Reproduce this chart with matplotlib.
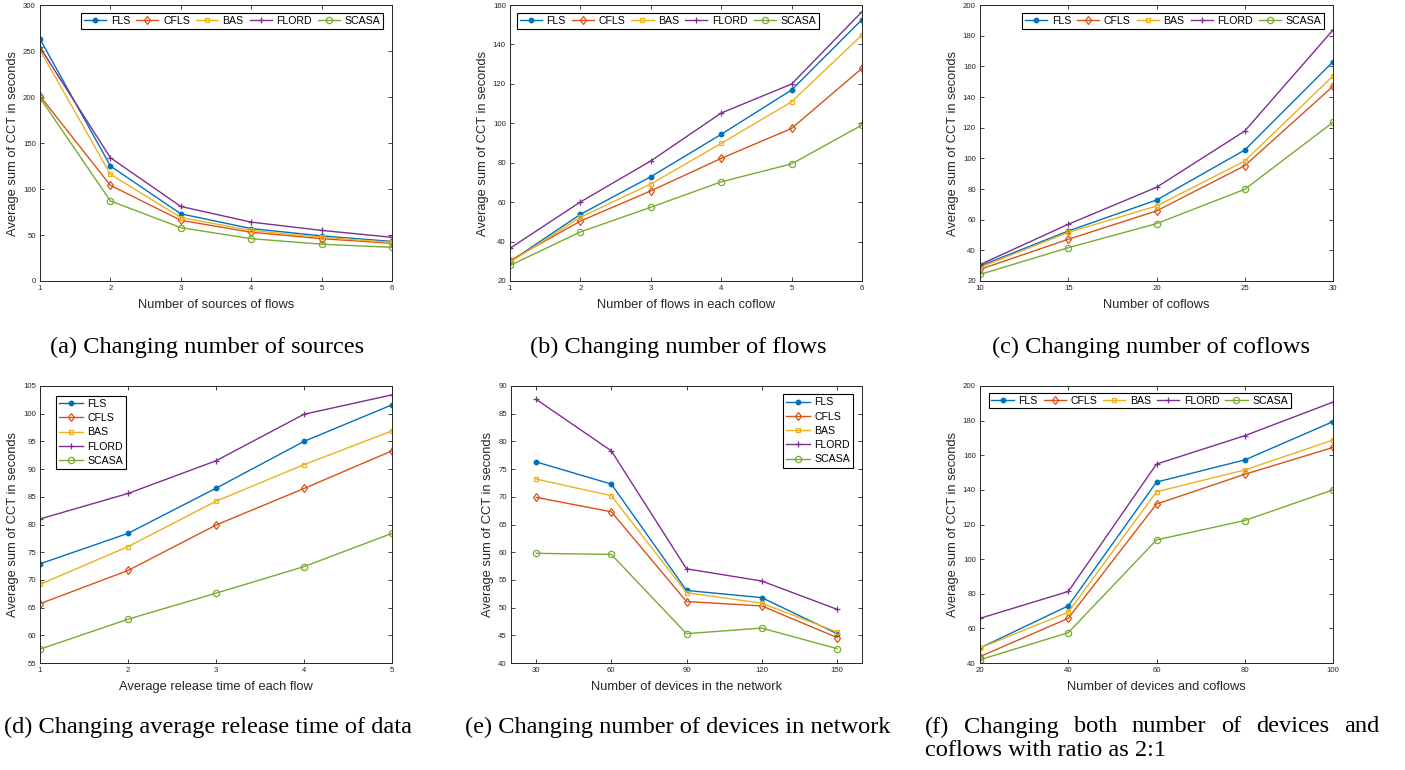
import matplotlib
matplotlib.use("Agg")
import matplotlib.pyplot as plt

# ---------------- data ----------------
series_names = ["FLS", "CFLS", "BAS", "FLORD", "SCASA"]

a_x = [1, 2, 3, 4, 5, 6]
a_FLS = [263, 125, 73, 57, 49, 43]
a_CFLS = [201, 104, 66, 53, 46, 41]
a_BAS = [251, 116, 69, 55, 47.5, 42]
a_FLORD = [254, 134, 81, 64, 55, 47.5]
a_SCASA = [199, 87, 58, 46, 40, 36.6]

b_x = [1, 2, 3, 4, 5, 6]
b_FLS = [29.8, 53.8, 72.9, 94.4, 116.9, 152.6]
b_CFLS = [30.3, 50.4, 65.7, 82.2, 97.4, 127.9]
b_BAS = [29.5, 52.3, 69.2, 89.8, 110.9, 144.8]
b_FLORD = [36.6, 60.1, 80.9, 105.2, 119.9, 156.6]
b_SCASA = [27.9, 44.9, 57.4, 70.3, 79.4, 99.1]

c_x = [10, 15, 20, 25, 30]
c_FLS = [29.8, 52.6, 72.8, 105.4, 163.0]
c_CFLS = [27.6, 47.2, 65.7, 95.2, 147.0]
c_BAS = [28.9, 51.7, 68.9, 98.3, 153.7]
c_FLORD = [30.7, 57.0, 81.1, 117.8, 183.7]
c_SCASA = [24.3, 41.7, 57.4, 79.8, 123.5]

d_x = [1, 2, 3, 4, 5]
d_FLS = [72.9, 78.4, 86.55, 95.0, 101.6]
d_CFLS = [65.7, 71.7, 79.9, 86.5, 93.3]
d_BAS = [69.2, 76.0, 84.2, 90.8, 96.9]
d_FLORD = [81.0, 85.6, 91.5, 99.9, 103.4]
d_SCASA = [57.5, 62.9, 67.6, 72.4, 78.4]

e_x = [30, 60, 90, 120, 150]
e_FLS = [76.3, 72.3, 53.1, 51.8, 45.3]
e_CFLS = [69.9, 67.3, 51.1, 50.3, 44.6]
e_BAS = [73.2, 70.2, 52.7, 50.8, 45.6]
e_FLORD = [87.6, 78.3, 57.0, 54.8, 49.7]
e_SCASA = [59.8, 59.6, 45.3, 46.3, 42.6]

f_x = [20, 40, 60, 80, 100]
f_FLS = [48.7, 73.0, 144.5, 157.3, 179.4]
f_CFLS = [43.7, 65.8, 131.8, 149.0, 164.5]
f_BAS = [48.7, 69.3, 138.9, 151.5, 168.8]
f_FLORD = [65.8, 81.3, 154.9, 171.3, 190.7]
f_SCASA = [41.9, 57.5, 111.1, 122.3, 140.0]

a_xlabel = "Number of sources of flows"
b_xlabel = "Number of flows in each coflow"
c_xlabel = "Number of coflows"
d_xlabel = "Average release time of each flow"
e_xlabel = "Number of devices in the network"
f_xlabel = "Number of devices and coflows"
ylabel = "Average sum of CCT in seconds"

captions = ["(a) Changing number of sources",
            "(b) Changing number of flows",
            "(c) Changing number of coflows",
            "(d) Changing average release time of data",
            "(e) Changing number of devices in network"]
caption_f1_words = ["(f)", "Changing", "both", "number", "of", "devices", "and"]
caption_f2 = "coflows with ratio as 2:1"

# ---------------- style ----------------
colors = ["#0072BD", "#D95319", "#EDB120", "#7E2F8E", "#77AC30"]
markers = [dict(marker="o", ms=3.2, mfc=None),
           dict(marker="d", ms=4.5, mfc="none", mew=0.9),
           dict(marker="s", ms=3.2, mfc="none", mew=0.9),
           dict(marker="+", ms=5, mew=0.9),
           dict(marker="o", ms=4.5, mfc="none", mew=0.9)]

plt.rcParams["font.family"] = ["Liberation Sans", "DejaVu Sans"]
axcol = "#262626"

fig = plt.figure(figsize=(14.05, 7.70), dpi=100)
W, H = 1405.0, 770.0


def make_ax(l, t, r, b):
    return fig.add_axes([l / W, 1 - b / H, (r - l) / W, (b - t) / H])


def setup(ax, xs, series, xlim, ylim, yticks, xticks, xlabel):
    for i, ys in enumerate(series):
        kw = dict(markers[i])
        mfc = kw.pop("mfc", None)
        if mfc is None:
            mfc = colors[i]
        ax.plot(xs, ys, color=colors[i], lw=1.0, mfc=mfc, mec=colors[i],
                label=series_names[i], **kw)
    ax.set_xlim(*xlim)
    ax.set_ylim(*ylim)
    ax.set_xticks(xticks)
    ax.set_yticks(yticks)
    ax.tick_params(direction="in", length=3, width=0.6, labelsize=5.6,
                   colors=axcol, top=True, right=True, pad=3)
    for s in ax.spines.values():
        s.set_color(axcol)
        s.set_linewidth(0.7)
    ax.set_xlabel(xlabel, fontsize=9.3, color=axcol, labelpad=5)
    ax.set_ylabel(ylabel, fontsize=9.3, color=axcol, labelpad=3)


def hleg(ax, loc, bbox):
    lg = ax.legend(loc=loc, bbox_to_anchor=bbox, ncol=5, fontsize=7.6,
                   frameon=True, fancybox=False, framealpha=1,
                   handlelength=2.1, handletextpad=0.45, columnspacing=0.55,
                   borderpad=0.25, borderaxespad=0)
    lg.get_frame().set_edgecolor("black")
    lg.get_frame().set_linewidth(0.8)


def vleg(ax, loc, bbox):
    lg = ax.legend(loc=loc, bbox_to_anchor=bbox, ncol=1, fontsize=7.6,
                   frameon=True, fancybox=False, framealpha=1,
                   handlelength=2.3, handletextpad=0.4, labelspacing=0.4,
                   borderpad=0.3, borderaxespad=0)
    lg.get_frame().set_edgecolor("black")
    lg.get_frame().set_linewidth(0.8)


# (a)
ax = make_ax(40, 5, 392, 281)
setup(ax, a_x, [a_FLS, a_CFLS, a_BAS, a_FLORD, a_SCASA], (1, 6), (0, 300),
      range(0, 301, 50), a_x, a_xlabel)
hleg(ax, "upper right", (0.975, 0.97))

# (b)
ax = make_ax(510, 5, 862, 281)
setup(ax, b_x, [b_FLS, b_CFLS, b_BAS, b_FLORD, b_SCASA], (1, 6), (20, 160),
      range(20, 161, 20), b_x, b_xlabel)
hleg(ax, "upper left", (0.02, 0.97))

# (c)
ax = make_ax(980, 5, 1333, 281)
setup(ax, c_x, [c_FLS, c_CFLS, c_BAS, c_FLORD, c_SCASA], (10, 30), (20, 200),
      range(20, 201, 20), c_x, c_xlabel)
hleg(ax, "upper right", (0.975, 0.97))

# (d)
ax = make_ax(40, 386, 392, 663)
setup(ax, d_x, [d_FLS, d_CFLS, d_BAS, d_FLORD, d_SCASA], (1, 5), (55, 105),
      range(55, 106, 5), d_x, d_xlabel)
vleg(ax, "upper left", (0.045, 0.965))

# (e)
ax = make_ax(511, 386, 862, 663)
setup(ax, e_x, [e_FLS, e_CFLS, e_BAS, e_FLORD, e_SCASA], (20, 160), (40, 90),
      range(40, 91, 5), e_x, e_xlabel)
vleg(ax, "upper right", (0.975, 0.97))

# (f)
ax = make_ax(980, 386, 1333, 663)
setup(ax, f_x, [f_FLS, f_CFLS, f_BAS, f_FLORD, f_SCASA], (20, 100), (40, 200),
      range(40, 201, 20), f_x, f_xlabel)
hleg(ax, "upper left", (0.025, 0.975))

# captions
cap_kw = dict(fontsize=17.6, family=["Liberation Serif", "DejaVu Serif"],
              color="black", va="center")
fig.text(207 / W, 1 - 347 / H, captions[0], ha="center", **cap_kw)
fig.text(678 / W, 1 - 347 / H, captions[1], ha="center", **cap_kw)
fig.text(1151 / W, 1 - 347 / H, captions[2], ha="center", **cap_kw)
fig.text(208 / W, 1 - 727 / H, captions[3], ha="center", **cap_kw)
fig.text(678 / W, 1 - 727 / H, captions[4], ha="center", **cap_kw)

# justified first line of caption (f)
x_start, x_end = 925.0, 1379.0
renderer = fig.canvas.get_renderer()
widths = []
word_texts = []
for w in caption_f1_words:
    t = fig.text(0, 1 - 727 / H, w, ha="left", **cap_kw)
    widths.append(t.get_window_extent(renderer).width)
    word_texts.append(t)
gap = (x_end - x_start - sum(widths)) / (len(widths) - 1)
xpos = x_start
for t, wd in zip(word_texts, widths):
    t.set_x(xpos / W)
    xpos += wd + gap
fig.text(x_start / W, 1 - 751 / H, caption_f2, ha="left", **cap_kw)

fig.savefig("out.png", dpi=100, facecolor="white")
